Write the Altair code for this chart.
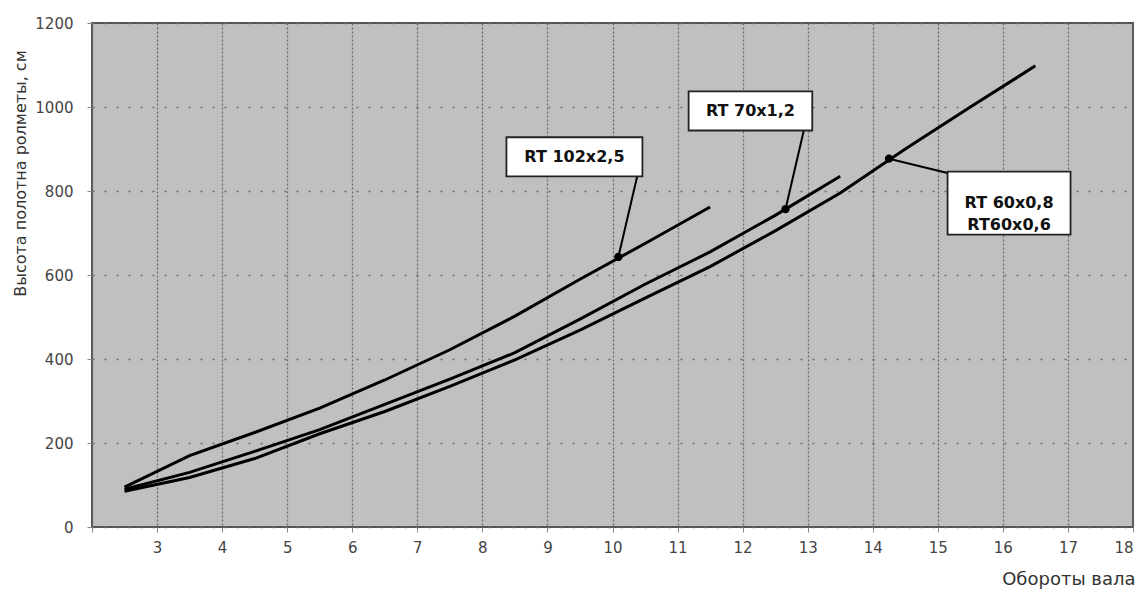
import altair as alt
import pandas as pd

# ---- data ----
x_rt102 = [2.5, 3.5, 4.5, 5.5, 6.5, 7.5, 8.5, 9.5, 10.5, 11.5]
y_rt102 = [95, 170, 225, 283, 350, 422, 502, 590, 675, 762]

x_rt70 = [2.5, 3.5, 4.5, 5.5, 6.5, 7.5, 8.5, 9.5, 10.5, 11.5, 12.5, 13.5]
y_rt70 = [90, 130, 180, 232, 292, 352, 415, 495, 578, 655, 742, 835]

x_rt60 = [2.5, 3.5, 4.5, 5.5, 6.5, 7.5, 8.5, 9.5, 10.5, 11.5, 12.5, 13.5, 14.5, 15.5, 16.5]
y_rt60 = [85, 118, 163, 222, 275, 335, 398, 469, 545, 620, 705, 795, 900, 1000, 1098]

# annotations: label text, box corners, leader line from marker to box
ann_text = ["RT 102x2,5", "RT 70x1,2", "RT 60x0,8\nRT60x0,6"]
ann_box_x1 = [8.37, 11.17, 15.15]
ann_box_x2 = [10.46, 13.07, 17.04]
ann_box_y1 = [835, 944, 696]
ann_box_y2 = [928, 1037, 846]
ann_pt_x = [10.09, 12.66, 14.25]
ann_pt_y = [643, 757, 877]
ann_end_x = [10.38, 12.94, 15.15]
ann_end_y = [835, 944, 843]

x_ticks = list(range(2, 19))
y_ticks = [0, 200, 400, 600, 800, 1000, 1200]

FONT = "DejaVu Sans"

rows = []
for name, xs, ys in [("RT 102x2,5", x_rt102, y_rt102),
                     ("RT 70x1,2", x_rt70, y_rt70),
                     ("RT 60x0,8", x_rt60, y_rt60)]:
    for a, b in zip(xs, ys):
        rows.append({"series": name, "x": a, "y": b})
lines_df = pd.DataFrame(rows)

boxes_df = pd.DataFrame({
    "label": ann_text,
    "x": ann_box_x1, "x2": ann_box_x2,
    "y": ann_box_y1, "y2": ann_box_y2,
    "cx": [(a + b) / 2 for a, b in zip(ann_box_x1, ann_box_x2)],
    "cy": [(a + b) / 2 for a, b in zip(ann_box_y1, ann_box_y2)],
})
lead_df = pd.DataFrame({"x": ann_pt_x, "y": ann_pt_y, "x2": ann_end_x, "y2": ann_end_y})

W, H = 1041, 504

x_scale = alt.Scale(domain=[2, 18], nice=False, zero=False)
y_scale = alt.Scale(domain=[0, 1200], nice=False)

x_axis = alt.Axis(
    values=x_ticks, labelExpr="datum.value == 2 ? '' : datum.label",
    title="Обороты вала", titleAnchor="end", titleAlign="right",
    titleX=W + 2, titleY=52, titleBaseline="middle",
    titleFont=FONT, titleFontSize=18, titleFontWeight="normal", titleColor="#333",
    labelFont=FONT, labelFontSize=15, labelColor="#444", labelPadding=8,
    ticks=True, tickSize=5, tickColor="#888",
    grid=True, gridColor="#6a6a6a", gridDash=[2, 2], gridWidth=1.3,
    domain=False,
)
y_axis = alt.Axis(
    values=y_ticks, format="d",
    title="Высота полотна ролметы, см", titleAngle=-90,
    titleX=-72, titleY=150, titleAlign="center", titleBaseline="middle",
    titleFont=FONT, titleFontSize=16, titleFontWeight="normal", titleColor="#333",
    labelFont=FONT, labelFontSize=15, labelColor="#444", labelPadding=14,
    ticks=True, tickSize=5, tickColor="#888",
    grid=True, gridColor="#6a6a6a", gridDash=[2, 10], gridWidth=1.5,
    domain=False,
)

X = alt.X("x:Q", scale=x_scale, axis=x_axis)
Y = alt.Y("y:Q", scale=y_scale, axis=y_axis)

lines = alt.Chart(lines_df).mark_line(color="black", strokeWidth=3).encode(
    x=X, y=Y, detail="series:N", order="x:Q")

leaders = alt.Chart(lead_df).mark_rule(color="black", strokeWidth=2).encode(
    x=X, y=Y, x2="x2:Q", y2="y2:Q")

dots = alt.Chart(lead_df).mark_circle(color="black", size=70, opacity=1).encode(x=X, y=Y)

boxes = alt.Chart(boxes_df).mark_rect(fill="white", stroke="#222", strokeWidth=1.8).encode(
    x=X, y=Y, x2="x2:Q", y2="y2:Q")

texts = alt.Chart(boxes_df).mark_text(
    font=FONT, fontSize=16, fontWeight="bold", color="#111",
    align="center", baseline="middle", lineBreak="\n", lineHeight=22,
).encode(
    x=alt.X("cx:Q", scale=x_scale, axis=x_axis),
    y=alt.Y("cy:Q", scale=y_scale, axis=y_axis),
    text="label:N")

chart = alt.layer(lines, leaders, dots, boxes, texts).properties(
    width=W, height=H,
    background="white",
    autosize=alt.AutoSizeParams(type="none"),
    padding={"left": 84, "top": 15, "right": 6, "bottom": 64},
).configure_view(
    fill="#c0c0c0", stroke="#555", strokeWidth=2
)

chart.save("out.html", embed_options={"renderer": "svg", "actions": False})
